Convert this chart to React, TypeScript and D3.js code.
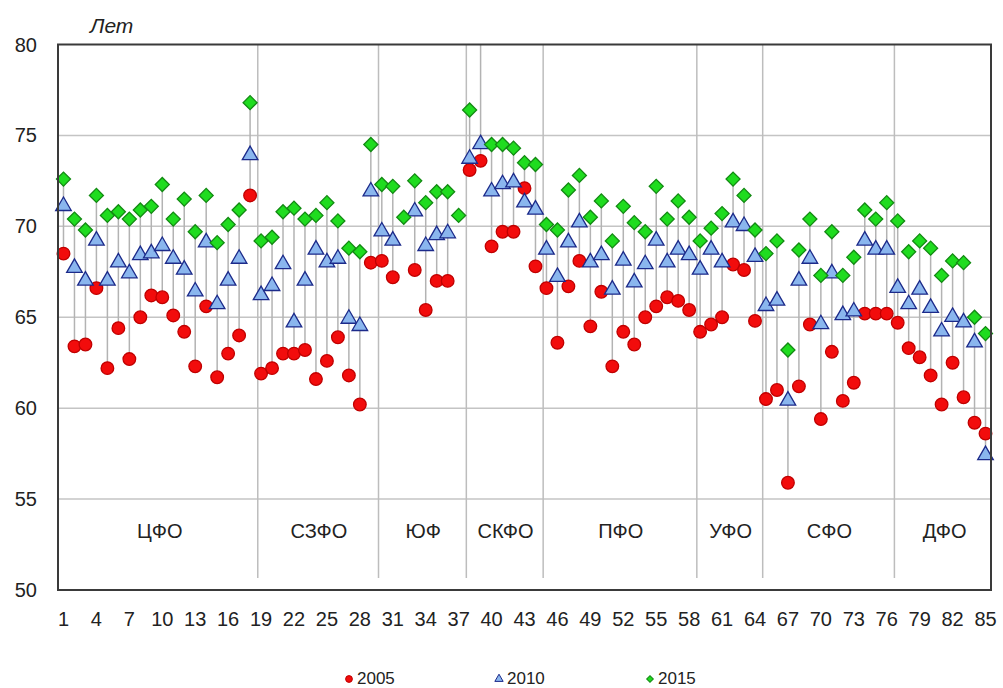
import React, { useEffect, useRef } from "react";
import * as d3 from "d3";

// life expectancy by region, 85 regions ordered by federal district
const regions = d3.range(1, 86);

const le2005: (number | null)[] = [
	68.5, 63.4, 63.5, 66.6, 62.2, 64.4, 62.7, 65.0, 66.2, 66.1, 65.1, 64.2, 62.3, 65.6, 61.7, 63.0, 64.0, 71.7,
	61.9, 62.2, 63.0, 63.0, 63.2, 61.6, 62.6, 63.9, 61.8, 60.2, 68.0,
	68.1, 67.2, null, 67.6, 65.4, 67.0, 67.0, null,
	73.1, 73.6, 68.9, 69.7, 69.7, 72.1, 67.8,
	66.6, 63.6, 66.7, 68.1, 64.5, 66.4, 62.3, 64.2, 63.5, 65.0, 65.6, 66.1, 65.9, 65.4,
	64.2, 64.6, 65.0, 67.9, 67.6, 64.8,
	60.5, 61.0, 55.9, 61.2, 64.6, 59.4, 63.1, 60.4, 61.4, 65.2, 65.2, 65.2,
	64.7, 63.3, 62.8, 61.8, 60.2, 62.5, 60.6, 59.2, 58.6,
];

const le2010: (number | null)[] = [
	71.2, 67.8, 67.1, 69.3, 67.1, 68.1, 67.5, 68.5, 68.6, 69.0, 68.3, 67.7, 66.5, 69.2, 65.8, 67.1, 68.3, 74.0,
	66.3, 66.8, 68.0, 64.8, 67.1, 68.8, 68.1, 68.3, 65.0, 64.6, 72.0,
	69.8, 69.3, null, 70.9, 69.0, 69.6, 69.7, null,
	73.8, 74.6, 72.0, 72.4, 72.5, 71.4, 71.0,
	68.8, 67.3, 69.2, 70.3, 68.1, 68.5, 66.6, 68.2, 67.0, 68.0, 69.3, 68.1, 68.8, 68.5,
	67.7, 68.8, 68.1, 70.3, 70.1, 68.4,
	65.7, 66.0, 60.5, 67.1, 68.3, 64.7, 67.5, 65.2, 65.4, 69.3, 68.8, 68.8,
	66.7, 65.8, 66.6, 65.6, 64.3, 65.1, 64.8, 63.7, 57.5,
];

const le2015: (number | null)[] = [
	72.6, 70.4, 69.8, 71.7, 70.6, 70.8, 70.4, 70.9, 71.1, 72.3, 70.4, 71.5, 69.7, 71.7, 69.1, 70.1, 70.9, 76.8,
	69.2, 69.4, 70.8, 71.0, 70.4, 70.6, 71.3, 70.3, 68.8, 68.6, 74.5,
	72.3, 72.2, 70.5, 72.5, 71.3, 71.9, 71.9, 70.6,
	76.4, 80.1, 74.5, 74.5, 74.3, 73.5, 73.4,
	70.1, 69.8, 72.0, 72.8, 70.5, 71.4, 69.2, 71.1, 70.2, 69.7, 72.2, 70.4, 71.4, 70.5,
	69.2, 69.9, 70.7, 72.6, 71.7, 69.8,
	68.5, 69.2, 63.2, 68.7, 70.4, 67.3, 69.7, 67.3, 68.3, 70.9, 70.4, 71.3,
	70.3, 68.6, 69.2, 68.8, 67.3, 68.1, 68.0, 65.0, 64.1,
];

const districtNames = ["ЦФО", "СЗФО", "ЮФ", "СКФО", "ПФО", "УФО", "СФО", "ДФО"];
const districtSizes = [18, 11, 8, 7, 14, 6, 12, 9];

const yTicks = [50, 55, 60, 65, 70, 75, 80];
const xTicks = d3.range(1, 86, 3);
const years = ["2005", "2010", "2015"];

const W = 1003;
const H = 688;
const FONT = "'Liberation Sans', Arial, sans-serif";

const App: React.FC = () => {
	const svgRef = useRef<SVGSVGElement | null>(null);

	useEffect(() => {
		const svg = d3.select(svgRef.current);
		svg.selectAll("*").remove();

		const left = 58;
		const right = 991;
		const top = 44.5;
		const bottom = 590;

		const x = d3.scalePoint<number>().domain(regions).range([left, right]).padding(0.5);
		const y = d3.scaleLinear().domain([50, 80]).range([bottom, top]);
		const step = x.step();

		svg.append("rect").attr("width", W).attr("height", H).attr("fill", "white");

		// horizontal grid
		svg.append("g")
			.selectAll("line")
			.data(yTicks.filter((t) => t > 50 && t < 80))
			.enter()
			.append("line")
			.attr("x1", left)
			.attr("x2", right)
			.attr("y1", (d) => y(d))
			.attr("y2", (d) => y(d))
			.attr("stroke", "#c4c4c4")
			.attr("stroke-width", 1.5);

		// district separators and labels
		const starts = districtSizes.map((_, i) => d3.sum(districtSizes.slice(0, i)) + 1);
		svg.append("g")
			.selectAll("line")
			.data(starts.slice(1))
			.enter()
			.append("line")
			.attr("x1", (d) => (x(d) as number) - step * 0.3)
			.attr("x2", (d) => (x(d) as number) - step * 0.3)
			.attr("y1", top)
			.attr("y2", 578)
			.attr("stroke", "#bdbdbd")
			.attr("stroke-width", 1.5);

		svg.append("g")
			.selectAll("text")
			.data(districtNames)
			.enter()
			.append("text")
			.attr("x", (_, i) => ((x(starts[i]) as number) + (x(starts[i] + districtSizes[i] - 1) as number)) / 2 + 3)
			.attr("y", 538)
			.attr("text-anchor", "middle")
			.style("font-family", FONT)
			.style("font-size", "20px")
			.style("fill", "#222")
			.text((d) => d);

		// high-low lines
		const clipId = "plot-clip";
		svg.append("clipPath")
			.attr("id", clipId)
			.append("rect")
			.attr("x", left)
			.attr("y", top)
			.attr("width", right - left)
			.attr("height", bottom - top);

		const hl = regions.map((r, i) => {
			const vals = [le2005[i], le2010[i], le2015[i]].filter((v) => v != null) as number[];
			return { r, lo: d3.min(vals) as number, hi: d3.max(vals) as number };
		});

		svg.append("g")
			.attr("clip-path", `url(#${clipId})`)
			.selectAll("line")
			.data(hl.filter((d) => d.hi > d.lo))
			.enter()
			.append("line")
			.attr("x1", (d) => x(d.r) as number)
			.attr("x2", (d) => x(d.r) as number)
			.attr("y1", (d) => y(d.lo))
			.attr("y2", (d) => y(d.hi))
			.attr("stroke", "#b3b3b3")
			.attr("stroke-width", 1.5);

		const inRange = (v: number | null) => v != null && v >= 50 && v <= 80;

		const circle = d3.symbol().type(d3.symbolCircle).size(125);
		const tri = d3.symbol().type(d3.symbolTriangle).size(105);
		const diamond = d3.symbol().type(d3.symbolSquare).size(98);

		const seriesList = [
			{ values: le2005, path: circle(), fill: "#f20c0c", stroke: "#c00000", rot: 0, dy: 0 },
			{ values: le2010, path: tri(), fill: "#8ab6ee", stroke: "#1c2a8a", rot: 0, dy: 1.5 },
			{ values: le2015, path: diamond(), fill: "#1fdc1f", stroke: "#138a13", rot: 45, dy: 0 },
		];

		seriesList.forEach((s) => {
			svg.append("g")
				.selectAll("path")
				.data(regions.filter((_, i) => inRange(s.values[i])))
				.enter()
				.append("path")
				.attr("d", s.path as string)
				.attr(
					"transform",
					(r) => `translate(${x(r)},${y(s.values[r - 1] as number) + s.dy}) rotate(${s.rot})`
				)
				.attr("fill", s.fill)
				.attr("stroke", s.stroke)
				.attr("stroke-width", 1.3);
		});

		// frame
		svg.append("rect")
			.attr("x", left)
			.attr("y", top)
			.attr("width", right - left)
			.attr("height", bottom - top)
			.attr("fill", "none")
			.attr("stroke", "#3a3a3a")
			.attr("stroke-width", 2);

		// y axis labels
		svg.append("g")
			.selectAll("text")
			.data(yTicks)
			.enter()
			.append("text")
			.attr("x", 37)
			.attr("y", (d) => y(d) + 7)
			.attr("text-anchor", "end")
			.style("font-family", FONT)
			.style("font-size", "20px")
			.style("fill", "#222")
			.text((d) => d);

		// x axis labels
		svg.append("g")
			.selectAll("text")
			.data(xTicks)
			.enter()
			.append("text")
			.attr("x", (d) => x(d) as number)
			.attr("y", 626)
			.attr("text-anchor", "middle")
			.style("font-family", FONT)
			.style("font-size", "20px")
			.style("fill", "#222")
			.text((d) => d);

		svg.append("text")
			.attr("x", 90)
			.attr("y", 33)
			.style("font-family", FONT)
			.style("font-size", "21px")
			.style("font-style", "italic")
			.style("fill", "#222")
			.text("Лет");

		// legend
		const legendX = [349, 499, 650];
		const lc = d3.symbol().type(d3.symbolCircle).size(36)();
		const lt = d3.symbol().type(d3.symbolTriangle).size(30)();
		const ld = d3.symbol().type(d3.symbolSquare).size(22)();
		const legendShapes = [lc, lt, ld];
		const lg = svg.append("g");
		years.forEach((yr, i) => {
			const s = seriesList[i];
			lg.append("path")
				.attr("d", legendShapes[i] as string)
				.attr("transform", `translate(${legendX[i]},${679}) rotate(${s.rot})`)
				.attr("fill", s.fill)
				.attr("stroke", s.stroke)
				.attr("stroke-width", 1);
			lg.append("text")
				.attr("x", legendX[i] + 8)
				.attr("y", 684)
				.style("font-family", FONT)
				.style("font-size", "17px")
				.style("fill", "#222")
				.text(yr);
		});
	}, []);

	return (
		<svg
			ref={svgRef}
			width={W}
			height={H}
			style={{ position: "absolute", left: 0, top: 0 }}
		></svg>
	);
};

export default App;
